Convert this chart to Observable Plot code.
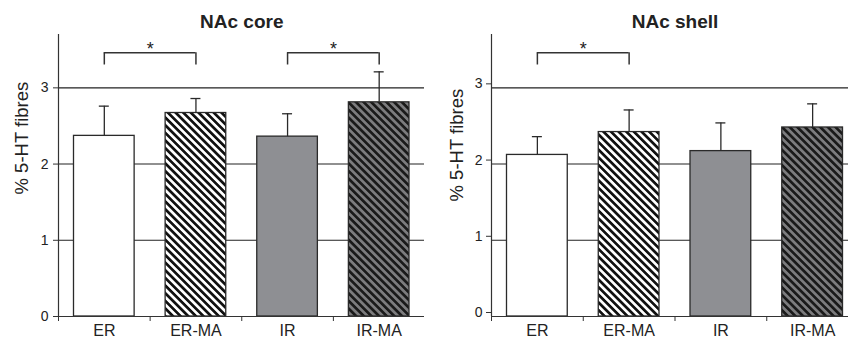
<!DOCTYPE html>
<html>
<head>
<meta charset="utf-8">
<script src="https://cdn.jsdelivr.net/npm/d3@7"></script>
<script src="https://cdn.jsdelivr.net/npm/@observablehq/plot@0.6"></script>
<style>
  body { margin: 0; background: #fff; }
  #wrap { display: flex; width: 848px; height: 340px; overflow: hidden; }
  #wrap svg { flex: none; }
</style>
</head>
<body>
<div id="wrap"></div>
<script>
// ---- data ----
const categories = ["ER", "ER-MA", "IR", "IR-MA"];
const coreMeans  = [2.37, 2.67, 2.36, 2.81];
const coreErrors = [0.39, 0.19, 0.30, 0.40];
const shellMeans  = [2.12, 2.42, 2.17, 2.48];
const shellErrors = [0.24, 0.29, 0.37, 0.31];
const yTicks = [0, 1, 2, 3];
const gridValues = [1, 2, 3];
const coreBrackets  = [[0, 1], [2, 3]];
const shellBrackets = [[0, 1]];
const bracketLevel = 3.46;
const bracketLegLevel = 3.30;
const starLevel = 3.51;

function makePanel(title, means, errors, brackets, opts) {
  const pid = opts.id;
  const fills = {
    "ER": "#ffffff",
    "ER-MA": `url(#${pid}-hatchBW)`,
    "IR": "#8e8f93",
    "IR-MA": `url(#${pid}-hatchGK)`
  };
  const data = categories.map((c, i) => ({c, i, v: means[i], e: errors[i]}));
  const br = brackets.map(([a, b]) => ({a, b}));
  const svg = Plot.plot({
    width: 424,
    height: 340,
    marginLeft: opts.marginLeft,
    marginRight: 0,
    marginTop: 34,
    marginBottom: 24,
    style: {fontFamily: "'Liberation Sans', Arial, sans-serif", color: "#222", background: "white"},
    x: {type: "linear", domain: [0, 4], range: opts.xRange},
    y: {domain: [0, 3.7]},
    color: {type: "identity"},
    marks: [
      Plot.ruleY(gridValues, {stroke: "#222", strokeWidth: 1.1}),
      Plot.rectY(data, {x1: d => d.i, x2: d => d.i + 1, y1: 0, y2: "v",
        insetLeft: 15.5, insetRight: 15.5, fill: d => fills[d.c], stroke: "#2a2a2a", strokeWidth: 1.3}),
      Plot.ruleX(data, {x: d => d.i + 0.5, y1: "v", y2: d => d.v + d.e, stroke: "#2a2a2a", strokeWidth: 1.3}),
      Plot.ruleY(data, {y: d => d.v + d.e, x1: d => d.i + 0.5, x2: d => d.i + 0.5,
        insetLeft: -5, insetRight: -5, stroke: "#2a2a2a", strokeWidth: 1.3}),
      Plot.ruleY([0], {stroke: "#333", strokeWidth: 1.2}),
      Plot.ruleX([0], {y1: 0, y2: 3.7, stroke: "#333", strokeWidth: 1.2}),
      Plot.axisY({ticks: yTicks, tickSize: 5, tickPadding: opts.yPad, fontSize: 14, dy: opts.yDy,
        stroke: "#333", label: null, tickFormat: d => String(d)}),
      Plot.axisX({ticks: [0, 1, 2, 3, 4], tickSize: 5, tickFormat: () => "", stroke: "#333", label: null}),
      Plot.axisX({ticks: categories.map((c, i) => i + 0.5), tickSize: 0, tickPadding: 8, fontSize: 16,
        label: null, tickFormat: d => categories[Math.floor(d)]}),
      // brackets
      Plot.ruleY(br, {y: bracketLevel, x1: d => d.a + 0.5, x2: d => d.b + 0.5, stroke: "#333", strokeWidth: 1.5}),
      Plot.ruleX(br, {x: d => d.a + 0.5, y1: bracketLegLevel, y2: bracketLevel, stroke: "#333", strokeWidth: 1.5}),
      Plot.ruleX(br, {x: d => d.b + 0.5, y1: bracketLegLevel, y2: bracketLevel, stroke: "#333", strokeWidth: 1.5}),
      Plot.text(br, {x: d => (d.a + d.b + 1) / 2, y: starLevel, text: () => "*", fontSize: 18, fill: "#222"}),
      // title
      Plot.text([title], {x: 2, frameAnchor: "top", lineAnchor: "middle", dy: -13,
        fontSize: 19, fontWeight: "bold", fill: "#222"}),
      // y label
      Plot.text(["% 5-HT fibres"], {frameAnchor: "left", rotate: -90, dx: opts.labelDx, dy: opts.labelDy,
        fontSize: 18.5, fill: "#222"})
    ]
  });
  const defs = d3.select(svg).insert("defs", ":first-child");
  const p1 = defs.append("pattern").attr("id", `${pid}-hatchBW`).attr("patternUnits", "userSpaceOnUse")
    .attr("width", 5.4).attr("height", 5.4).attr("patternTransform", "rotate(-45)");
  p1.append("rect").attr("width", 5.4).attr("height", 5.4).attr("fill", "#ffffff");
  p1.append("rect").attr("width", 2.7).attr("height", 5.4).attr("fill", "#111111");
  const p2 = defs.append("pattern").attr("id", `${pid}-hatchGK`).attr("patternUnits", "userSpaceOnUse")
    .attr("width", 5.4).attr("height", 5.4).attr("patternTransform", "rotate(-45)");
  p2.append("rect").attr("width", 5.4).attr("height", 5.4).attr("fill", "#7c7c7e");
  p2.append("rect").attr("width", 2.7).attr("height", 5.4).attr("fill", "#1a1a1a");
  return svg;
}

const wrap = document.getElementById("wrap");
wrap.appendChild(makePanel("NAc core", coreMeans, coreErrors, coreBrackets,
  {id: "core", marginLeft: 58, xRange: [58, 424.5], yPad: 5, yDy: 0, labelDx: -36, labelDy: 19}));
wrap.appendChild(makePanel("NAc shell", shellMeans, shellErrors, shellBrackets,
  {id: "shell", marginLeft: 67, xRange: [67, 434], yPad: 4, yDy: -4, labelDx: -34, labelDy: 26}));
</script>
</body>
</html>
